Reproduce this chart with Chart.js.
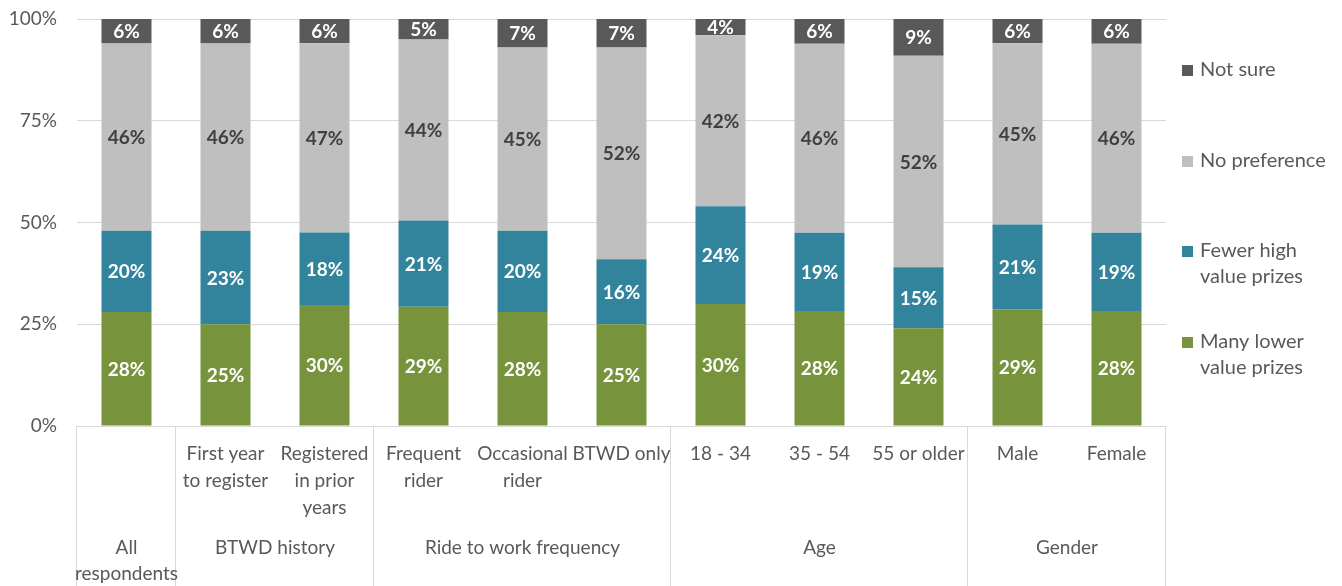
<!DOCTYPE html>
<html>
<head>
<meta charset="utf-8">
<script src="https://cdn.jsdelivr.net/npm/chart.js@4.4.1/dist/chart.umd.min.js"></script>
<style>
  html, body { margin: 0; padding: 0; background: #ffffff; }
  #wrap { width: 1342px; height: 586px; position: relative; }
</style>
</head>
<body>
<div id="wrap"><canvas id="c" width="1342" height="586"></canvas></div>
<script>
// Sub-group labels shown directly under each bar
const categories = [
  [""],
  ["First year", "to register"],
  ["Registered", "in prior", "years"],
  ["Frequent", "rider"],
  ["Occasional", "rider"],
  ["BTWD only"],
  ["18 - 34"],
  ["35 - 54"],
  ["55 or older"],
  ["Male"],
  ["Female"]
];

// Outer grouping: label lines and how many bars each group spans
const groupLabels = [["All", "respondents"], ["BTWD history"], ["Ride to work frequency"], ["Age"], ["Gender"]];
const groupSizes = [1, 2, 3, 3, 2];

// Survey shares (%) per preference
const manyLower   = [28, 25, 30, 29, 28, 25, 30, 28, 24, 29, 28];
const fewerHigh   = [20, 23, 18, 21, 20, 16, 24, 19, 15, 21, 19];
const noPref      = [46, 46, 47, 44, 45, 52, 42, 46, 52, 45, 46];
const notSure     = [ 6,  6,  6,  5,  7,  7,  4,  6,  9,  6,  6];

const yTicks = [0, 25, 50, 75, 100];

const seriesNames = ["Many lower value prizes", "Fewer high value prizes", "No preference", "Not sure"];
const legendLines = [["Many lower", "value prizes"], ["Fewer high", "value prizes"], ["No preference"], ["Not sure"]];
const seriesColors = ["#77933c", "#31849b", "#bfbfbf", "#595959"];
const labelColors = ["#ffffff", "#ffffff", "#404040", "#ffffff"];

const raw = [manyLower, fewerHigh, noPref, notSure];
// 100% stacked: each bar is scaled to its own total
const totals = categories.map((_, i) => raw.reduce((s, arr) => s + arr[i], 0));

const FONT = "Lato, 'Open Sans', sans-serif";
const TEXT = "#595959";
const LINE = "#d9d9d9";
const FS = 19;

const datasets = raw.map((arr, k) => ({
  label: seriesNames[k],
  data: arr.map((v, i) => v / totals[i] * 100),
  rawValues: arr,
  backgroundColor: seriesColors[k],
  borderWidth: 0,
  stack: "s",
  categoryPercentage: 1.0,
  barPercentage: 0.505
}));

// Percent labels in the middle of each segment
const segmentLabels = {
  id: "segmentLabels",
  afterDatasetsDraw(chart) {
    const ctx = chart.ctx;
    ctx.save();
    ctx.font = "bold " + FS + "px " + FONT;
    ctx.textAlign = "center";
    ctx.textBaseline = "middle";
    chart.data.datasets.forEach((ds, k) => {
      const meta = chart.getDatasetMeta(k);
      meta.data.forEach((bar, i) => {
        const y = (bar.y + bar.base) / 2;
        ctx.fillStyle = labelColors[k];
        ctx.fillText(ds.rawValues[i] + "%", bar.x, y + 1);
      });
    });
    ctx.restore();
  }
};

// Outer category groups with separator lines below the axis
const groupAxis = {
  id: "groupAxis",
  afterDraw(chart) {
    const ctx = chart.ctx;
    const area = chart.chartArea;
    const step = (area.right - area.left) / categories.length;
    ctx.save();
    ctx.strokeStyle = LINE;
    ctx.lineWidth = 1;
    let start = 0;
    const bounds = [0];
    groupSizes.forEach(n => { start += n; bounds.push(start); });
    bounds.forEach(b => {
      const px = Math.round(area.left + b * step) - 0.5;
      ctx.beginPath();
      ctx.moveTo(px, area.bottom);
      ctx.lineTo(px, chart.height);
      ctx.stroke();
    });
    ctx.fillStyle = TEXT;
    ctx.font = FS + "px " + FONT;
    ctx.textAlign = "center";
    ctx.textBaseline = "middle";
    groupLabels.forEach((lines, g) => {
      const cx = area.left + (bounds[g] + bounds[g + 1]) / 2 * step;
      lines.forEach((t, j) => ctx.fillText(t, cx, 548 + j * 26));
    });
    ctx.restore();
  }
};

// Vertical legend at the right, top series first
const sideLegend = {
  id: "sideLegend",
  afterDraw(chart) {
    const ctx = chart.ctx;
    const rows = [70, 161, 251, 342];
    ctx.save();
    ctx.font = "20px " + FONT;
    ctx.textBaseline = "middle";
    ctx.textAlign = "left";
    const order = [3, 2, 1, 0];
    order.forEach((k, r) => {
      const y = rows[r];
      ctx.fillStyle = chart.data.datasets[k].backgroundColor;
      ctx.fillRect(1182, y - 5, 11, 11);
      ctx.fillStyle = TEXT;
      legendLines[k].forEach((t, j) => ctx.fillText(t, 1200, y + j * 26));
    });
    ctx.restore();
  }
};

new Chart(document.getElementById("c"), {
  type: "bar",
  data: { labels: categories, datasets },
  plugins: [segmentLabels, groupAxis, sideLegend],
  options: {
    responsive: false,
    animation: false,
    layout: { padding: { top: 19, right: 176, left: 0, bottom: 0 } },
    plugins: { legend: { display: false }, tooltip: { enabled: false } },
    scales: {
      x: {
        stacked: true,
        grid: { display: false, drawTicks: false },
        border: { display: true, color: LINE, width: 1 },
        ticks: {
          color: TEXT,
          font: { family: FONT, size: FS, lineHeight: 27 / FS },
          padding: 14,
          maxRotation: 0,
          autoSkip: false
        },
        afterFit(scale) { scale.height = 160; }
      },
      y: {
        stacked: true,
        min: 0,
        max: 100,
        afterBuildTicks(scale) { scale.ticks = yTicks.map(v => ({ value: v })); },
        grid: { color: LINE, drawTicks: false },
        border: { display: false },
        ticks: {
          color: TEXT,
          font: { family: FONT, size: FS },
          padding: 20,
          callback: v => v + "%"
        },
        afterFit(scale) {
          scale.width = 77;
          scale.paddingTop = 0;
          scale.paddingBottom = 0;
        }
      }
    }
  }
});
</script>
</body>
</html>
